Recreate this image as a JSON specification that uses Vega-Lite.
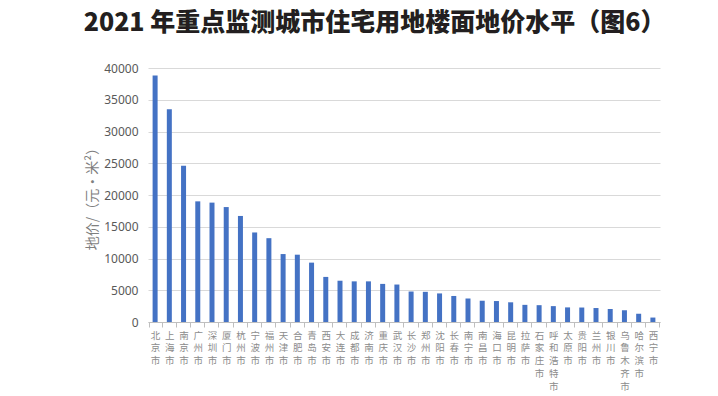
{
  "$schema": "https://vega.github.io/schema/vega-lite/v6.json",
  "width": 512,
  "height": 254,
  "autosize": {"type": "none"},
  "padding": {"left": 148, "top": 68, "right": 58, "bottom": 74},
  "background": "white",
  "title": {
    "text": "2021 年重点监测城市住宅用地楼面地价水平（图6）",
    "font": "Noto Sans CJK SC",
    "fontSize": 25,
    "fontWeight": 900,
    "color": "#231f20",
    "anchor": "start",
    "dx": -2,
    "offset": 26
  },
  "config": {
    "view": {"stroke": null},
    "font": "Noto Sans CJK SC"
  },
  "data": {
    "values": [
      {"city": "北京市", "price": 38800},
      {"city": "上海市", "price": 33500},
      {"city": "南京市", "price": 24600},
      {"city": "广州市", "price": 19000},
      {"city": "深圳市", "price": 18800},
      {"city": "厦门市", "price": 18100},
      {"city": "杭州市", "price": 16700},
      {"city": "宁波市", "price": 14100},
      {"city": "福州市", "price": 13200},
      {"city": "天津市", "price": 10700},
      {"city": "合肥市", "price": 10600},
      {"city": "青岛市", "price": 9350},
      {"city": "西安市", "price": 7100},
      {"city": "大连市", "price": 6500},
      {"city": "成都市", "price": 6400},
      {"city": "济南市", "price": 6400},
      {"city": "重庆市", "price": 6000},
      {"city": "武汉市", "price": 5900},
      {"city": "长沙市", "price": 4800},
      {"city": "郑州市", "price": 4750},
      {"city": "沈阳市", "price": 4500},
      {"city": "长春市", "price": 4100},
      {"city": "南宁市", "price": 3700},
      {"city": "南昌市", "price": 3350},
      {"city": "海口市", "price": 3300},
      {"city": "昆明市", "price": 3100},
      {"city": "拉萨市", "price": 2700},
      {"city": "石家庄市", "price": 2650},
      {"city": "呼和浩特市", "price": 2500},
      {"city": "太原市", "price": 2300},
      {"city": "贵阳市", "price": 2280},
      {"city": "兰州市", "price": 2200},
      {"city": "银川市", "price": 2050},
      {"city": "乌鲁木齐市", "price": 1850},
      {"city": "哈尔滨市", "price": 1300},
      {"city": "西宁市", "price": 700}
    ]
  },
  "mark": {"type": "bar", "color": "#4472C4", "width": 5},
  "encoding": {
    "x": {
      "field": "city",
      "type": "nominal",
      "sort": null,
      "axis": {
        "title": null,
        "labelAngle": 0,
        "labelExpr": "split(datum.label, '')",
        "labelFont": "Noto Sans CJK SC",
        "labelFontSize": 9.5,
        "labelLineHeight": 12.8,
        "labelColor": "#8c8c8c",
        "labelBaseline": "top",
        "labelPadding": 3,
        "labelOverlap": false,
        "tickBand": "extent",
        "tickSize": 5,
        "tickColor": "#bfbfbf",
        "domainColor": "#bfbfbf"
      }
    },
    "y": {
      "field": "price",
      "type": "quantitative",
      "scale": {"domain": [0, 40000]},
      "axis": {
        "values": [0, 5000, 10000, 15000, 20000, 25000, 30000, 35000, 40000],
        "format": "d",
        "title": "地价/（元·米²）",
        "titleFont": "Noto Sans CJK SC",
        "titleFontSize": 14,
        "titleFontWeight": "normal",
        "titleColor": "#7f7f7f",
        "titlePadding": 4,
        "labelFontSize": 12,
        "labelFont": "Noto Sans",
        "labelColor": "#595959",
        "labelPadding": 10,
        "ticks": false,
        "domain": false,
        "gridColor": "#d9d9d9"
      }
    }
  }
}
